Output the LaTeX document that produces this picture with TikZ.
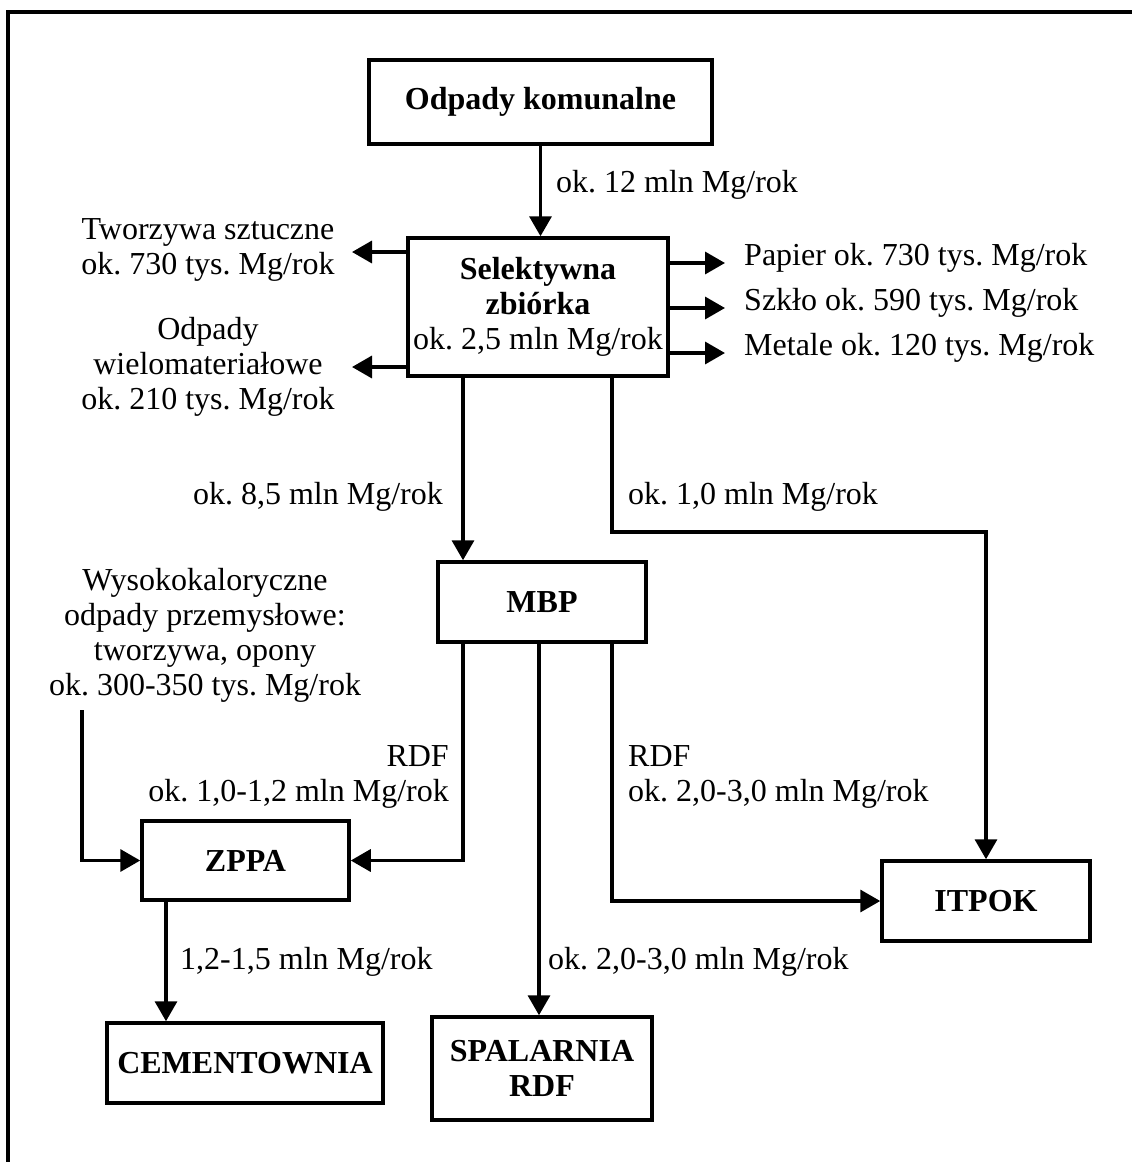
\documentclass[tikz,border=0pt]{standalone}
\usepackage{fontspec}
\setmainfont{Liberation Serif}
\usetikzlibrary{arrows.meta}
\frenchspacing
\begin{document}
\begin{tikzpicture}[x=1pt,y=-1pt,
  box/.style={draw,line width=3.5pt,inner sep=0pt,font=\fontsize{32}{35}\selectfont\bfseries,align=center},
  lbl/.style={inner sep=0pt,font=\fontsize{32}{35}\selectfont},
  flow/.style={line width=3.5pt,-{Triangle[length=20pt,width=22pt]}}]
\useasboundingbox (0,0) rectangle (1132,1162);
% frame (only top and left edges visible)
\draw[line width=4pt] (1132,12) -- (8,12) -- (8,1162);

% boxes
\node[box,minimum width=343pt,minimum height=84pt] (odp) at (540.5,102) {Odpady komunalne};
\node[box,minimum width=260pt,minimum height=138pt] (sel) at (538,307) {Selektywna\\zbiórka\\\normalfont ok. 2,5 mln Mg/rok};
\node[box,minimum width=208pt,minimum height=80pt] (mbp) at (542,602) {MBP};
\node[box,minimum width=207pt,minimum height=79pt] (zppa) at (245.5,860.5) {ZPPA};
\node[box,minimum width=208pt,minimum height=80pt] (itpok) at (986,901) {ITPOK};
\node[box,minimum width=276pt,minimum height=80pt] (cem) at (245,1063) {CEMENTOWNIA};
\node[box,minimum width=220pt,minimum height=103pt] (spal) at (542,1068.5) {SPALARNIA\\RDF};

% side labels
\node[lbl,align=center] (tw) at (208,250) {Tworzywa sztuczne\\ok. 730 tys. Mg/rok};
\node[lbl,align=center] (wm) at (208,367) {Odpady\\wielomateriałowe\\ok. 210 tys. Mg/rok};
\node[lbl,anchor=mid west] (pap) at (744,263) {Papier ok. 730 tys. Mg/rok};
\node[lbl,anchor=mid west] (szk) at (744,308) {Szkło ok. 590 tys. Mg/rok};
\node[lbl,anchor=mid west] (met) at (744,353) {Metale ok. 120 tys. Mg/rok};
\node[lbl,align=center] (wys) at (205,635) {Wysokokaloryczne\\odpady przemysłowe:\\tworzywa, opony\\ok. 300-350 tys. Mg/rok};

% flow labels
\node[lbl,anchor=mid west] (l12) at (556,190) {ok. 12 mln Mg/rok};
\node[lbl,anchor=mid east] (l85) at (443,502) {ok. 8,5 mln Mg/rok};
\node[lbl,anchor=mid west] (l10) at (628,502) {ok. 1,0 mln Mg/rok};
\node[lbl,align=right,anchor=east] (lrdf1) at (449,777) {RDF\\ok. 1,0-1,2 mln Mg/rok};
\node[lbl,align=left,anchor=west] (lrdf2) at (628,777) {RDF\\ok. 2,0-3,0 mln Mg/rok};
\node[lbl,anchor=mid west] (lsp) at (548,967) {ok. 2,0-3,0 mln Mg/rok};
\node[lbl,anchor=mid west] (lcem) at (180,967) {1,2-1,5 mln Mg/rok};

% helper coordinates
\coordinate (tL1) at (352,252);
\coordinate (tL2) at (352,367);
\coordinate (tR1) at (725,263);
\coordinate (tR2) at (725,308);
\coordinate (tR3) at (725,353);
\coordinate (xa) at (463,0);
\coordinate (xb) at (612,0);
\coordinate (xc) at (539,0);
\coordinate (xd) at (166,0);
\coordinate (yb) at (612,532);
\coordinate (w0) at (82,710);

% connectors
\draw[flow] (odp.south) -- (odp.south |- sel.north);
\draw[flow] (sel.west |- tL1) -- (tL1);
\draw[flow] (sel.west |- tL2) -- (tL2);
\draw[flow] (sel.east |- tR1) -- (tR1);
\draw[flow] (sel.east |- tR2) -- (tR2);
\draw[flow] (sel.east |- tR3) -- (tR3);
\draw[flow] (sel.south -| xa) -- (mbp.north -| xa);
\draw[flow] (sel.south -| xb) -- (yb) -| (itpok.north);
\draw[flow] (mbp.south -| xa) |- (zppa.east);
\draw[flow] (mbp.south -| xc) -- (spal.north -| xc);
\draw[flow] (mbp.south -| xb) |- (itpok.west);
\draw[flow] (w0) |- (zppa.west);
\draw[flow] (zppa.south -| xd) -- (cem.north -| xd);
\end{tikzpicture}
\end{document}
